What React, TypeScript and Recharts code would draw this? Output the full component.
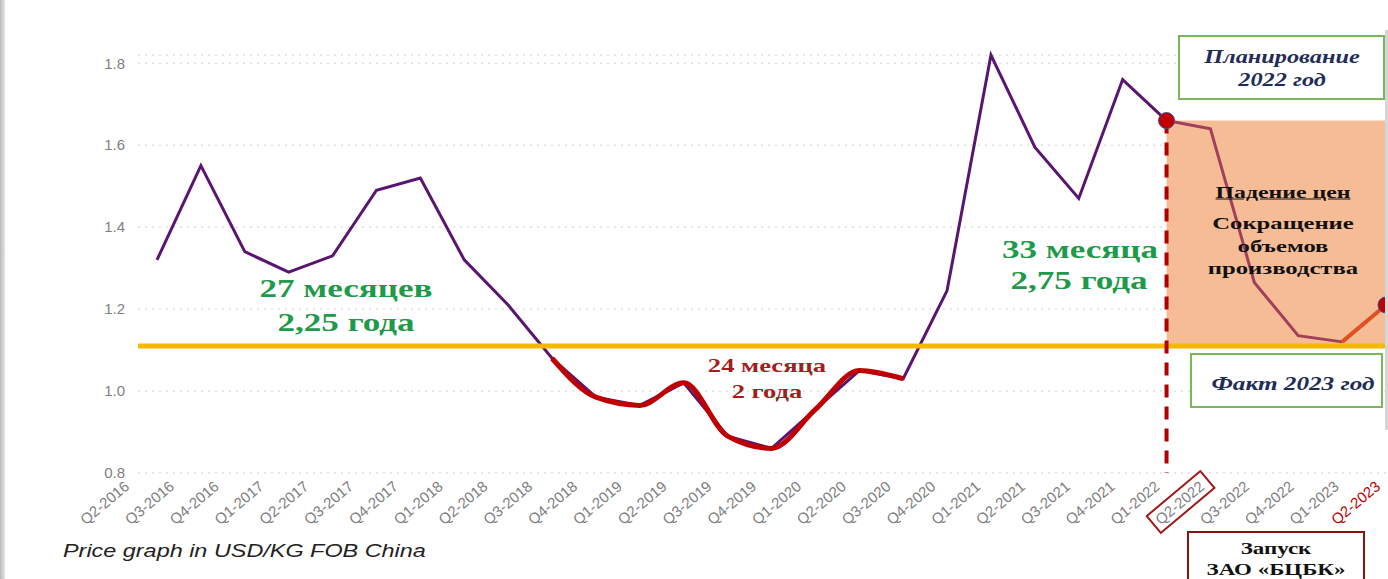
import { LineChart, Line, XAxis, YAxis, CartesianGrid, ReferenceLine, ReferenceArea } from "recharts";

const quarters = [
  "Q2-2016", "Q3-2016", "Q4-2016",
  "Q1-2017", "Q2-2017", "Q3-2017", "Q4-2017",
  "Q1-2018", "Q2-2018", "Q3-2018", "Q4-2018",
  "Q1-2019", "Q2-2019", "Q3-2019", "Q4-2019",
  "Q1-2020", "Q2-2020", "Q3-2020", "Q4-2020",
  "Q1-2021", "Q2-2021", "Q3-2021", "Q4-2021",
  "Q1-2022", "Q2-2022", "Q3-2022", "Q4-2022",
  "Q1-2023", "Q2-2023",
];

// USD/KG FOB China
const prices = [
  1.32, 1.55, 1.34,
  1.29, 1.33, 1.49, 1.52,
  1.32, 1.21, 1.08, 0.985,
  0.965, 1.02, 0.89, 0.86,
  0.955, 1.05, 1.03, 1.245,
  1.82, 1.595, 1.47, 1.76,
  1.66, 1.64, 1.265, 1.135,
  1.12, 1.21,
];

const yTicks = [0.8, 1.0, 1.2, 1.4, 1.6, 1.8];
const threshold = 1.11;
const dipFrom = 9; // Q3-2018
const dipTo = 17; // Q3-2020
const planFrom = 23; // Q1-2022
const factFrom = 27; // Q1-2023

const rows = quarters.map((q, i) => ({
  q,
  price: i <= planFrom ? prices[i] : null,
  dip: i >= dipFrom && i <= dipTo ? prices[i] : null,
  plan: i >= planFrom && i <= factFrom ? prices[i] : null,
  fact: i >= factFrom ? prices[i] : null,
}));

const serif = '"Liberation Serif", "Times New Roman", serif';
const sans = '"Liberation Sans", Arial, sans-serif';

function QuarterTick(props: any) {
  const { x, y, payload } = props;
  const label: string = payload.value;
  const i = quarters.indexOf(label);
  const last = i === quarters.length - 1;
  const shift = last ? -8 : -30 + 0.9 * i;
  const boxed = label === "Q2-2022";
  return (
    <g transform={`translate(${x + shift},${y + 3}) rotate(-40)`}>
      {boxed && (
        <rect x={-63} y={-11} width={70} height={22} fill="none" stroke="#a01818" strokeWidth={2} />
      )}
      <text
        x={0}
        y={0}
        dy="0.35em"
        textAnchor="end"
        fontSize={15}
        fontFamily={sans}
        fill={last ? "#c00000" : "#808080"}
      >
        {label}
      </text>
    </g>
  );
}

function redDot(at: number) {
  return (p: any) =>
    p.index === at && p.cx != null ? (
      <circle key={`dot-${p.index}`} cx={p.cx} cy={p.cy} r={8} fill="#c00000" stroke="#34509a" strokeWidth={1} />
    ) : (
      <g key={`dot-${p.index}`} />
    );
}

function Note({ x, y, size, color, children, italic, underline, sx = 1.3 }: any) {
  return (
    <div
      style={{
        position: "absolute",
        left: x,
        top: y,
        transform: `translate(-50%, -50%) scaleX(${sx})`,
        fontFamily: serif,
        fontWeight: 700,
        fontSize: size,
        fontStyle: italic ? "italic" : "normal",
        textDecoration: underline ? "underline" : "none",
        color,
        whiteSpace: "nowrap",
        lineHeight: 1,
      }}
    >
      {children}
    </div>
  );
}

function Box({ left, top, width, height, border }: any) {
  return (
    <div
      style={{
        position: "absolute",
        left,
        top,
        width,
        height,
        boxSizing: "border-box",
        border: `2px solid ${border}`,
        background: "#fff",
      }}
    />
  );
}

export default function App() {
  return (
    <div
      style={{
        position: "absolute",
        left: 0,
        top: 0,
        width: 1388,
        height: 579,
        overflow: "hidden",
        background: "#fff",
      }}
    >
      <LineChart width={1396} height={579} data={rows} margin={{ top: 55, right: 10, bottom: 0, left: 0 }}>
        <CartesianGrid vertical={false} stroke="#cfcfcf" strokeDasharray="2 5" />
        <ReferenceArea x1="Q1-2022" x2="Q2-2023" y1={threshold} y2={1.66} fill="#f5bc96" fillOpacity={1} stroke="none" />
        <XAxis
          dataKey="q"
          interval={0}
          height={106}
          axisLine={false}
          tickLine={false}
          padding={{ left: 19, right: 0 }}
          tick={<QuarterTick />}
        />
        <YAxis
          width={138}
          domain={[0.8, 1.8]}
          ticks={yTicks}
          tickFormatter={(v: number) => v.toFixed(1)}
          axisLine={false}
          tickLine={false}
          tickMargin={7}
          tick={{ fontSize: 15, fill: "#7f7f7f", fontFamily: sans }}
        />
        <Line dataKey="price" stroke="#5a1570" strokeWidth={3} dot={false} isAnimationActive={false} />
        <Line dataKey="dip" type="monotone" stroke="#c00000" strokeWidth={5} dot={false} isAnimationActive={false} />
        <ReferenceLine y={threshold} stroke="#f5b800" strokeWidth={5} />
        <ReferenceLine
          segment={[
            { x: "Q1-2022", y: 1.66 },
            { x: "Q1-2022", y: 0.8 },
          ]}
          stroke="#b00000"
          strokeWidth={4}
          strokeDasharray="13 9"
        />
        <Line dataKey="plan" stroke="#a0405a" strokeWidth={3} dot={redDot(planFrom)} isAnimationActive={false} />
        <Line dataKey="fact" stroke="#e05020" strokeWidth={4} dot={redDot(quarters.length - 1)} isAnimationActive={false} />
      </LineChart>

      <div style={{ position: "absolute", left: 0, top: 0, width: 5, height: 579, background: "linear-gradient(90deg,#b8b8b8,#e6e6e6)" }} />
      <div style={{ position: "absolute", left: 1385, top: 30, width: 3, height: 400, background: "#d6d6d6" }} />

      <Note x={346} y={289} size={26} color="#1e9a4a" sx={1.35}>27 месяцев</Note>
      <Note x={346} y={323} size={26} color="#1e9a4a" sx={1.35}>2,25 года</Note>

      <Note x={1080} y={250} size={26} color="#1e9a4a" sx={1.35}>33 месяца</Note>
      <Note x={1079} y={281} size={26} color="#1e9a4a" sx={1.35}>2,75 года</Note>

      <Note x={767} y={365} size={19} color="#a51c1c" sx={1.4}>24 месяца</Note>
      <Note x={767} y={391} size={19} color="#a51c1c" sx={1.4}>2 года</Note>

      <Box left={1178} top={35} width={207} height={65} border="#7cb65a" />
      <Note x={1282} y={57} size={18} color="#1f2d57" italic sx={1.35}>Планирование</Note>
      <Note x={1282} y={80} size={18} color="#1f2d57" italic sx={1.35}>2022 год</Note>

      <Note x={1283} y={192} size={17} color="#111" underline sx={1.4}>Падение цен</Note>
      <Note x={1283} y={223} size={17} color="#111" sx={1.45}>Сокращение</Note>
      <Note x={1283} y={246} size={17} color="#111" sx={1.45}>объемов</Note>
      <Note x={1283} y={268} size={17} color="#111" sx={1.45}>производства</Note>

      <Box left={1190} top={353} width={193} height={55} border="#7cb65a" />
      <Note x={1293} y={384} size={18} color="#1f2d57" italic sx={1.4}>Факт 2023 год</Note>

      <Box left={1187} top={531} width={178} height={60} border="#8b1010" />
      <Note x={1276} y={548} size={17} color="#111" sx={1.35}>Запуск</Note>
      <Note x={1276} y={569} size={17} color="#111" sx={1.35}>ЗАО «БЦБК»</Note>

      <div
        style={{
          position: "absolute",
          left: 63,
          top: 551,
          transform: "translateY(-50%) scaleX(1.3)",
          transformOrigin: "left center",
          fontFamily: sans,
          fontStyle: "italic",
          fontSize: 18,
          color: "#222",
          whiteSpace: "nowrap",
          lineHeight: 1,
        }}
      >
        Price graph in USD/KG FOB China
      </div>
    </div>
  );
}
